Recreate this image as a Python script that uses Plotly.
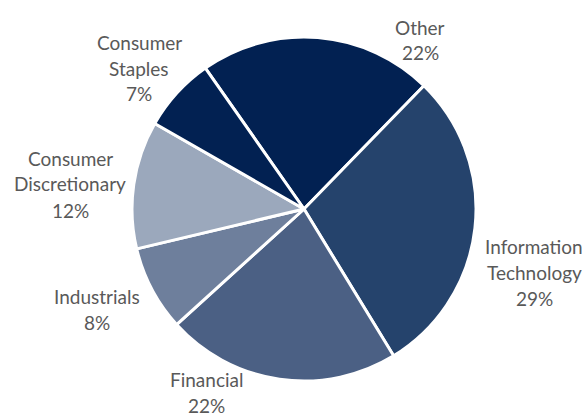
import plotly.graph_objects as go

labels = ["Other", "Information Technology", "Financial", "Industrials",
          "Consumer Discretionary", "Consumer Staples"]
label_lines = [["Other"], ["Information", "Technology"], ["Financial"], ["Industrials"],
               ["Consumer", "Discretionary"], ["Consumer", "Staples"]]
values = [22, 29, 22, 8, 12, 7]
colors = ["#022152", "#25436c", "#4b6084", "#6e7f9c", "#9ba8bc", "#022152"]

# label block centre positions (pixels in 586x417 canvas)
label_pos = [(420, 40), (534, 272), (206, 392), (97, 309), (70, 184), (139, 68)]
line_gap = 26

W, H = 586, 417
cx, cy, r = 304, 209, 172

fig = go.Figure(go.Pie(
    labels=labels,
    values=values,
    sort=False,
    direction="clockwise",
    rotation=-35,
    marker=dict(colors=colors, line=dict(color="white", width=3)),
    textinfo="none",
    hoverinfo="label+percent",
    domain=dict(x=[(cx - r) / W, (cx + r) / W],
                y=[(H - cy - r) / H, (H - cy + r) / H]),
    showlegend=False,
))

total = sum(values)
for lines, v, (px, py) in zip(label_lines, values, label_pos):
    all_lines = lines + [f"{round(100 * v / total)}%"]
    n = len(all_lines)
    for i, t in enumerate(all_lines):
        ly = py + (i - (n - 1) / 2) * line_gap
        fig.add_annotation(
            x=px / W, y=1 - ly / H, xref="paper", yref="paper",
            text=t, showarrow=False, xanchor="center", yanchor="middle",
            font=dict(family="Lato", size=19, color="#595959"),
        )

fig.update_layout(
    width=W, height=H,
    margin=dict(l=0, r=0, t=0, b=0),
    paper_bgcolor="white",
    plot_bgcolor="white",
)

fig.write_html("out.html", config={"displayModeBar": False},
               post_script="document.body.style.margin='0';")
